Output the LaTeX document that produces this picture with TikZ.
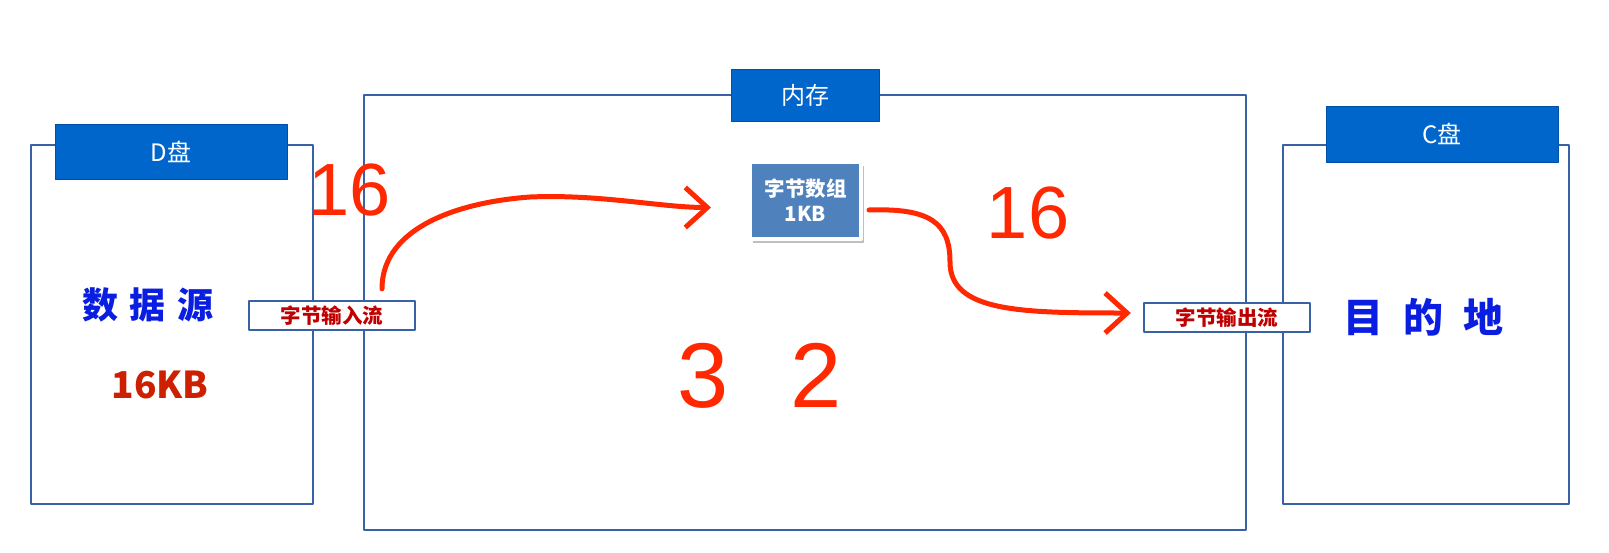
\documentclass[tikz,border=0pt]{standalone}
\usepackage{fontspec}
\setmainfont{Noto Sans CJK SC}
\newfontfamily\handfont{Liberation Sans}
\usepackage{tikz}
\usetikzlibrary{arrows.meta,shadows}

\definecolor{framecol}{RGB}{56,98,165}
\definecolor{headcol}{RGB}{0,102,204}
\definecolor{headline}{RGB}{0,80,165}
\definecolor{bufcol}{RGB}{79,129,189}
\definecolor{streamred}{RGB}{192,0,0}
\definecolor{kbred}{RGB}{204,32,0}
\definecolor{penred}{RGB}{255,40,0}
\definecolor{inkblue}{RGB}{10,30,225}

\begin{document}
\begin{tikzpicture}[
  x=1pt, y=-1pt,
  line cap=round,
  line join=round,
  diskbox/.style={
    draw=framecol,
    line width=2.4pt,
    fill=white,
    inner sep=0pt
  },
  head/.style={
    draw=headline,
    line width=1pt,
    fill=headcol,
    text=white,
    inner sep=0pt,
    font=\fontsize{24}{28}\selectfont
  },
  stream/.style={
    draw=framecol,
    line width=2.4pt,
    fill=white,
    inner sep=0pt,
    minimum width=166pt,
    minimum height=29pt,
    text=streamred,
    font=\fontsize{20.5}{24}\selectfont\bfseries
  },
  buf/.style={
    draw=white,
    line width=4pt,
    fill=bufcol,
    text=white,
    align=center,
    inner sep=0pt,
    minimum width=111pt,
    minimum height=77pt,
    font=\fontsize{20.5}{25}\selectfont\bfseries,
    drop shadow={shadow xshift=3pt, shadow yshift=-4pt, opacity=0.25, fill=black}
  },
  pen/.style={
    draw=penred,
    line width=5pt,
    -{Straight Barb[length=22pt,width=40pt]}
  },
  ink/.style={
    text=inkblue,
    inner sep=0pt,
    font=\fontsize{36}{40}\selectfont\bfseries
  },
  scribble/.style={
    text=penred,
    inner sep=0pt,
    font=\handfont\fontsize{74}{80}\selectfont
  }
]

\useasboundingbox (0,0) rectangle (1609,552);

% Memory and disks
\node[diskbox, minimum width=882pt, minimum height=435pt] (mem)   at (805,312.5) {};
\node[diskbox, minimum width=282pt, minimum height=359pt] (dbox)  at (172,324.5) {};
\node[diskbox, minimum width=286pt, minimum height=359pt] (cbox)  at (1426,324.5) {};

\node[head, minimum width=148pt, minimum height=52pt] (memhead) at (805,95)    {内存};
\node[head, minimum width=232pt, minimum height=55pt] (dhead)   at (171,151.5) {D盘};
\node[head, minimum width=232pt, minimum height=56pt] (chead)   at (1442,134)  {C盘};

% Streams and buffer
\node[stream] (instr)  at (332,315.5)  {字节输入流};
\node[stream] (outstr) at (1227,317.5) {字节输出流};
\node[buf]    (arr)    at (805.5,200.5) {字节数组\\1KB};

% Disk contents
\node[ink] (src) at (148,305) {数\hspace{12pt}据\hspace{12pt}源};
\node[text=kbred, font=\fontsize{37}{40}\selectfont\bfseries] (size) at (160,385) {16KB};
\node[ink, font=\fontsize{40}{44}\selectfont\bfseries] (dst) at (1423,317) {目\hspace{20pt}的\hspace{20pt}地};

% Hand notes
\node[scribble] (nin)  at (350,190) {16};
\node[scribble] (nout) at (1028,213) {16};
\node[scribble, font=\handfont\fontsize{92}{96}\selectfont] (nmem) at (760,376) {3\hspace{62pt}2};

\coordinate (bend1) at (530,197);
\coordinate (bend2) at (950,262);

\draw[pen]
  ([xshift=50pt,yshift=11pt]instr.north)
  .. controls +(0,-62) and +(-70,5) .. (bend1)
  .. controls +(70,-3) and +(-50,0) ..
  ([xshift=-37pt,yshift=-7pt]arr.west);

\draw[pen]
  ([xshift=6pt,yshift=-9.5pt]arr.east)
  .. controls +(60,-2) and +(0,-40) .. (bend2)
  .. controls +(0,50) and +(-110,0) ..
  ([xshift=-12pt,yshift=4.5pt]outstr.west);

\end{tikzpicture}
\end{document}
